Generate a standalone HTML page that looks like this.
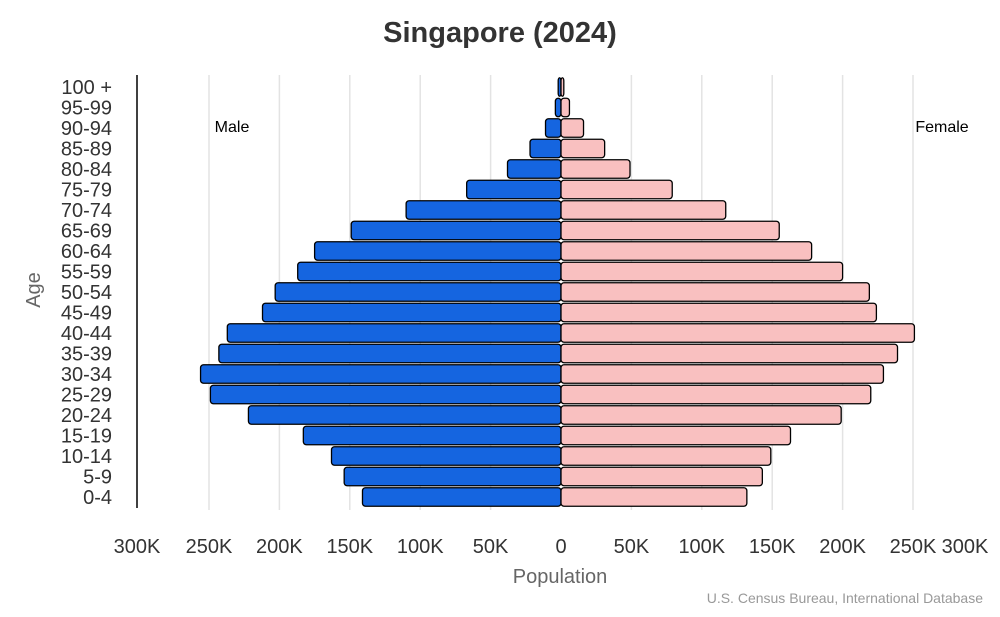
<!DOCTYPE html>
<html><head><meta charset="utf-8"><style>
body{margin:0;background:#fff;font-family:"Liberation Sans",Arial,sans-serif}
svg text{font-family:"Liberation Sans",Arial,sans-serif}
</style></head><body>
<svg id="c" width="1000" height="612" viewBox="0 0 1000 612">
<text x="500" y="42" text-anchor="middle" font-size="29" font-weight="bold" fill="#333">Singapore (2024)</text>
<g id="grid"></g>
<line x1="137" y1="75" x2="137" y2="508" stroke="#000" stroke-width="1.5"/>
<g id="bars"></g>
<g id="ylabels"></g>
<g id="xlabels"></g>
<text x="232" y="132" text-anchor="middle" font-size="16" fill="#000">Male</text>
<text x="942" y="132" text-anchor="middle" font-size="16" fill="#000">Female</text>
<text x="560" y="583" text-anchor="middle" font-size="20" fill="#666">Population</text>
<text x="40" y="290" text-anchor="middle" font-size="20" fill="#666" transform="rotate(-90 40 290)">Age</text>
<text x="983" y="603" text-anchor="end" font-size="14" fill="#999">U.S. Census Bureau, International Database</text>
</svg>
<script>
const ageGroups=["0-4","5-9","10-14","15-19","20-24","25-29","30-34","35-39","40-44","45-49","50-54","55-59","60-64","65-69","70-74","75-79","80-84","85-89","90-94","95-99","100 +"];
const maleValues=[141,154,163,183,222,249,256,243,237,212,203,187,175,149,110,67,38,22,11,4,2];
const femaleValues=[132,143,149,163,199,220,229,239,251,224,219,200,178,155,117,79,49,31,16,6,2];
const tickValues=[-300,-250,-200,-150,-100,-50,0,50,100,150,200,250,300];
const tickLabels=["300K","250K","200K","150K","100K","50K","0","50K","100K","150K","200K","250K","300K"];
const NS="http://www.w3.org/2000/svg";
const x0=561,k=1.408;
const xs=v=>x0+v*k;
const yc=i=>497-i*20.5;
const bh=18.5;
function mk(t,a,p){const e=document.createElementNS(NS,t);for(const q in a)e.setAttribute(q,a[q]);p.appendChild(e);return e;}
const grid=document.getElementById('grid'),bars=document.getElementById('bars'),yl=document.getElementById('ylabels'),xl=document.getElementById('xlabels');
tickValues.forEach((v,i)=>{
 if(v!==0&&Math.abs(v)!==300){const g=mk('line',{x1:xs(v),x2:xs(v),y1:75,y2:510,stroke:'#e3e3e3','stroke-width':1.5},grid);
 
 }
 let x=xs(v); if(v===300)x=965; if(v===-300)x=137;
 const t=mk('text',{x:x,y:553,'text-anchor':'middle','font-size':20,fill:'#333'},xl);t.textContent=tickLabels[i];
 
 
});
ageGroups.forEach((a,i)=>{
 const y=yc(i);
 const m=mk('rect',{x:xs(-maleValues[i]),y:y-bh/2,width:maleValues[i]*k,height:bh,rx:3,fill:'#1565e0',stroke:'#000','stroke-width':1.3},bars);
 
 
 const f=mk('rect',{x:x0,y:y-bh/2,width:femaleValues[i]*k,height:bh,rx:3,fill:'#f9c0c0',stroke:'#000','stroke-width':1.3},bars);
 
 
 const t=mk('text',{x:112,y:y+7,'text-anchor':'end','font-size':20,fill:'#333'},yl);t.textContent=a;
 
 
});
</script>
</body></html>
